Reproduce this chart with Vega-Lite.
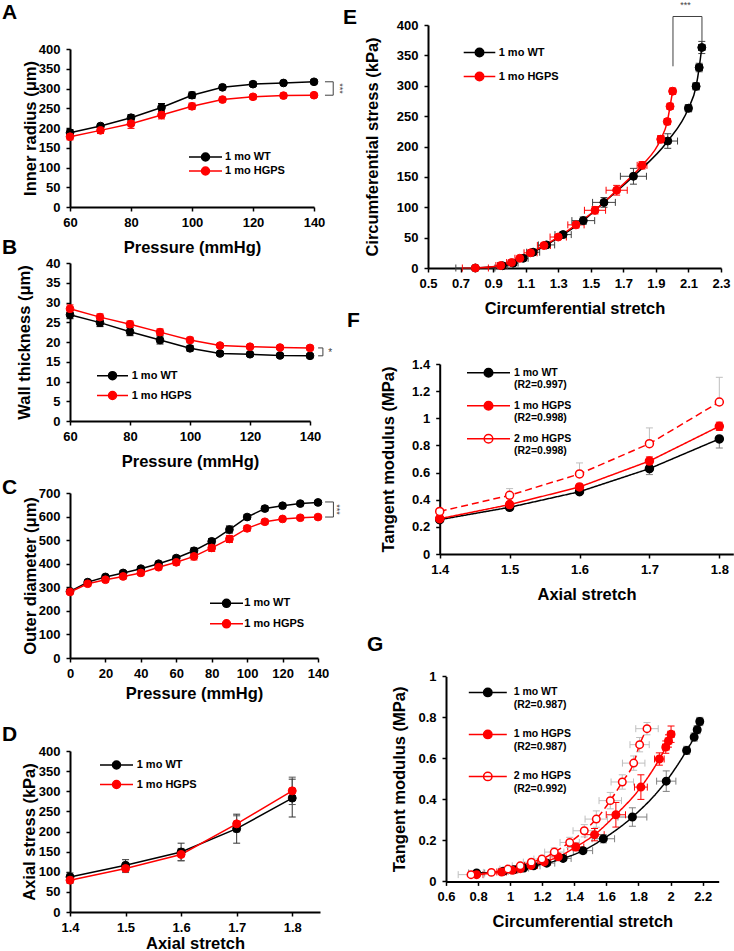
{
"$schema": "https://vega.github.io/schema/vega-lite/v6.json",
"padding": {"left": 2, "top": 0, "right": 0, "bottom": 0},
"config": {
 "font": "Liberation Sans",
 "view": {"stroke": null},
 "axis": {"grid": false, "domainColor": "black", "domainWidth": 2, "tickColor": "black", "tickWidth": 1.5, "tickSize": 4, "labelFont": "Liberation Sans", "labelFontSize": 13, "labelFontWeight": "bold", "labelColor": "black", "labelPadding": 5, "titleFont": "Liberation Sans", "titleFontSize": 16.5, "titleFontWeight": "bold", "titleColor": "black", "labelOverlap": false, "labelFlush": false, "format": ".4~g", "tickCount": 20},
 "axisY": {"labelPadding": 6},
 "legend": {"labelFont": "Liberation Sans", "labelFontWeight": "bold", "labelColor": "black", "labelFontSize": 11, "padding": 0, "labelLimit": 0, "symbolStrokeWidth": 1.5, "symbolSize": 100},
 "title": {"font": "Liberation Sans", "fontSize": 21, "fontWeight": "bold", "color": "black", "anchor": "start", "frame": "group"}
},
"datasets": {
 "A": [
  {"s":"1 mo WT","x":60,"y":188,"lo":180,"hi":196},
  {"s":"1 mo WT","x":70,"y":205,"lo":199,"hi":211},
  {"s":"1 mo WT","x":80,"y":226,"lo":218,"hi":234},
  {"s":"1 mo WT","x":90,"y":252,"lo":242,"hi":262},
  {"s":"1 mo WT","x":100,"y":283,"lo":275,"hi":291},
  {"s":"1 mo WT","x":110,"y":303,"lo":297,"hi":309},
  {"s":"1 mo WT","x":120,"y":311,"lo":305,"hi":317},
  {"s":"1 mo WT","x":130,"y":314,"lo":309,"hi":319},
  {"s":"1 mo WT","x":140,"y":317,"lo":312,"hi":322},
  {"s":"1 mo HGPS","x":60,"y":178,"lo":170,"hi":186},
  {"s":"1 mo HGPS","x":70,"y":194,"lo":186,"hi":202},
  {"s":"1 mo HGPS","x":80,"y":211,"lo":199,"hi":223},
  {"s":"1 mo HGPS","x":90,"y":233,"lo":223,"hi":243},
  {"s":"1 mo HGPS","x":100,"y":255,"lo":247,"hi":263},
  {"s":"1 mo HGPS","x":110,"y":272,"lo":266,"hi":278},
  {"s":"1 mo HGPS","x":120,"y":279,"lo":273,"hi":285},
  {"s":"1 mo HGPS","x":130,"y":282,"lo":276,"hi":288},
  {"s":"1 mo HGPS","x":140,"y":283,"lo":278,"hi":288}
 ],
 "A_br": [{"x":146.3,"x2":146.3,"y":283,"y2":317},{"x":143.6,"x2":146.3,"y":317,"y2":317},{"x":143.6,"x2":146.3,"y":283,"y2":283}],
 "A_tx": [{"x":148.5,"y":300,"t":"***"}],
 "B": [
  {"s":"1 mo WT","x":60,"y":26.9,"lo":25.9,"hi":27.9},
  {"s":"1 mo WT","x":70,"y":24.9,"lo":23.9,"hi":25.9},
  {"s":"1 mo WT","x":80,"y":22.6,"lo":21.6,"hi":23.6},
  {"s":"1 mo WT","x":90,"y":20.5,"lo":19.5,"hi":21.5},
  {"s":"1 mo WT","x":100,"y":18.4,"lo":17.7,"hi":19.1},
  {"s":"1 mo WT","x":110,"y":17.1,"lo":16.6,"hi":17.6},
  {"s":"1 mo WT","x":120,"y":16.9,"lo":16.4,"hi":17.4},
  {"s":"1 mo WT","x":130,"y":16.6,"lo":16.1,"hi":17.1},
  {"s":"1 mo WT","x":140,"y":16.5,"lo":16.0,"hi":17.0},
  {"s":"1 mo HGPS","x":60,"y":28.4,"lo":27.4,"hi":29.4},
  {"s":"1 mo HGPS","x":70,"y":26.3,"lo":25.5,"hi":27.1},
  {"s":"1 mo HGPS","x":80,"y":24.5,"lo":23.7,"hi":25.3},
  {"s":"1 mo HGPS","x":90,"y":22.5,"lo":21.7,"hi":23.3},
  {"s":"1 mo HGPS","x":100,"y":20.5,"lo":19.8,"hi":21.2},
  {"s":"1 mo HGPS","x":110,"y":19.1,"lo":18.6,"hi":19.6},
  {"s":"1 mo HGPS","x":120,"y":18.8,"lo":18.3,"hi":19.3},
  {"s":"1 mo HGPS","x":130,"y":18.6,"lo":18.1,"hi":19.1},
  {"s":"1 mo HGPS","x":140,"y":18.5,"lo":18.0,"hi":19.0}
 ],
 "B_br": [{"x":144.3,"x2":144.3,"y":16.5,"y2":18.5},{"x":142.7,"x2":144.3,"y":16.5,"y2":16.5},{"x":142.7,"x2":144.3,"y":18.5,"y2":18.5}],
 "B_tx": [{"x":146.7,"y":17.2,"t":"*"}],
 "C": [
  {"s":"1 mo WT","x":0,"y":283,"lo":275,"hi":291},
  {"s":"1 mo WT","x":10,"y":322,"lo":314,"hi":330},
  {"s":"1 mo WT","x":20,"y":344,"lo":336,"hi":352},
  {"s":"1 mo WT","x":30,"y":361,"lo":353,"hi":369},
  {"s":"1 mo WT","x":40,"y":379,"lo":371,"hi":387},
  {"s":"1 mo WT","x":50,"y":400,"lo":392,"hi":408},
  {"s":"1 mo WT","x":60,"y":424,"lo":414,"hi":434},
  {"s":"1 mo WT","x":70,"y":455,"lo":443,"hi":467},
  {"s":"1 mo WT","x":80,"y":495,"lo":483,"hi":507},
  {"s":"1 mo WT","x":90,"y":545,"lo":530,"hi":560},
  {"s":"1 mo WT","x":100,"y":598,"lo":588,"hi":608},
  {"s":"1 mo WT","x":110,"y":634,"lo":624,"hi":644},
  {"s":"1 mo WT","x":120,"y":646,"lo":638,"hi":654},
  {"s":"1 mo WT","x":130,"y":655,"lo":647,"hi":663},
  {"s":"1 mo WT","x":140,"y":660,"lo":652,"hi":668},
  {"s":"1 mo HGPS","x":0,"y":280,"lo":272,"hi":288},
  {"s":"1 mo HGPS","x":10,"y":315,"lo":305,"hi":325},
  {"s":"1 mo HGPS","x":20,"y":332,"lo":322,"hi":342},
  {"s":"1 mo HGPS","x":30,"y":346,"lo":336,"hi":356},
  {"s":"1 mo HGPS","x":40,"y":361,"lo":351,"hi":371},
  {"s":"1 mo HGPS","x":50,"y":385,"lo":375,"hi":395},
  {"s":"1 mo HGPS","x":60,"y":406,"lo":394,"hi":418},
  {"s":"1 mo HGPS","x":70,"y":431,"lo":416,"hi":446},
  {"s":"1 mo HGPS","x":80,"y":467,"lo":452,"hi":482},
  {"s":"1 mo HGPS","x":90,"y":505,"lo":490,"hi":520},
  {"s":"1 mo HGPS","x":100,"y":550,"lo":538,"hi":562},
  {"s":"1 mo HGPS","x":110,"y":578,"lo":568,"hi":588},
  {"s":"1 mo HGPS","x":120,"y":590,"lo":582,"hi":598},
  {"s":"1 mo HGPS","x":130,"y":595,"lo":587,"hi":603},
  {"s":"1 mo HGPS","x":140,"y":598,"lo":590,"hi":606}
 ],
 "C_br": [{"x":148.7,"x2":148.7,"y":598,"y2":662},{"x":144,"x2":148.7,"y":662,"y2":662},{"x":144,"x2":148.7,"y":598,"y2":598}],
 "C_tx": [{"x":151,"y":630,"t":"***"}],
 "D": [
  {"s":"1 mo WT","x":1.4,"y":87,"lo":77,"hi":97},
  {"s":"1 mo WT","x":1.5,"y":116,"lo":102,"hi":130},
  {"s":"1 mo WT","x":1.6,"y":149,"lo":127,"hi":171},
  {"s":"1 mo WT","x":1.7,"y":207,"lo":171,"hi":243},
  {"s":"1 mo WT","x":1.8,"y":283,"lo":236,"hi":330},
  {"s":"1 mo HGPS","x":1.4,"y":79,"lo":71,"hi":87},
  {"s":"1 mo HGPS","x":1.5,"y":108,"lo":98,"hi":118},
  {"s":"1 mo HGPS","x":1.6,"y":143,"lo":128,"hi":158},
  {"s":"1 mo HGPS","x":1.7,"y":219,"lo":199,"hi":239},
  {"s":"1 mo HGPS","x":1.8,"y":301,"lo":267,"hi":335}
 ],
 "E": [
  {"s":"1 mo WT","x":0.791,"y":0,"xl":0.671,"xh":0.911,"lo":0,"hi":1},
  {"s":"1 mo WT","x":0.957,"y":3.8,"xl":0.927,"xh":0.987,"lo":2.8,"hi":4.8},
  {"s":"1 mo WT","x":1.023,"y":8,"xl":0.993,"xh":1.053,"lo":6,"hi":10},
  {"s":"1 mo WT","x":1.085,"y":16,"xl":1.055,"xh":1.115,"lo":14,"hi":18},
  {"s":"1 mo WT","x":1.146,"y":26,"xl":1.106,"xh":1.186,"lo":23,"hi":29},
  {"s":"1 mo WT","x":1.228,"y":38,"xl":1.178,"xh":1.278,"lo":34,"hi":42},
  {"s":"1 mo WT","x":1.33,"y":55,"xl":1.28,"xh":1.38,"lo":50,"hi":60},
  {"s":"1 mo WT","x":1.454,"y":78,"xl":1.384,"xh":1.524,"lo":72,"hi":84},
  {"s":"1 mo WT","x":1.581,"y":108,"xl":1.511,"xh":1.651,"lo":100,"hi":116},
  {"s":"1 mo WT","x":1.762,"y":151,"xl":1.682,"xh":1.842,"lo":138,"hi":164},
  {"s":"1 mo WT","x":1.973,"y":209,"xl":1.913,"xh":2.033,"lo":197,"hi":221},
  {"s":"1 mo WT","x":2.1,"y":263,"xl":2.08,"xh":2.12,"lo":257,"hi":269},
  {"s":"1 mo WT","x":2.147,"y":299,"xl":2.127,"xh":2.167,"lo":293,"hi":305},
  {"s":"1 mo WT","x":2.166,"y":330,"xl":2.146,"xh":2.186,"lo":323,"hi":337},
  {"s":"1 mo WT","x":2.182,"y":363,"xl":2.162,"xh":2.202,"lo":353,"hi":373},
  {"s":"1 mo HGPS","x":0.791,"y":0,"xl":0.711,"xh":0.871,"lo":0,"hi":1},
  {"s":"1 mo HGPS","x":0.947,"y":4,"xl":0.917,"xh":0.977,"lo":3,"hi":5},
  {"s":"1 mo HGPS","x":1.013,"y":9,"xl":0.983,"xh":1.043,"lo":7,"hi":11},
  {"s":"1 mo HGPS","x":1.064,"y":16,"xl":1.034,"xh":1.094,"lo":14,"hi":18},
  {"s":"1 mo HGPS","x":1.13,"y":25,"xl":1.09,"xh":1.17,"lo":22,"hi":28},
  {"s":"1 mo HGPS","x":1.212,"y":37,"xl":1.172,"xh":1.252,"lo":34,"hi":40},
  {"s":"1 mo HGPS","x":1.3,"y":51,"xl":1.25,"xh":1.35,"lo":47,"hi":55},
  {"s":"1 mo HGPS","x":1.409,"y":71,"xl":1.359,"xh":1.459,"lo":66,"hi":76},
  {"s":"1 mo HGPS","x":1.526,"y":95,"xl":1.461,"xh":1.591,"lo":89,"hi":101},
  {"s":"1 mo HGPS","x":1.659,"y":128,"xl":1.594,"xh":1.724,"lo":120,"hi":136},
  {"s":"1 mo HGPS","x":1.815,"y":169,"xl":1.785,"xh":1.845,"lo":163,"hi":175},
  {"s":"1 mo HGPS","x":1.93,"y":212,"xl":1.91,"xh":1.95,"lo":206,"hi":218},
  {"s":"1 mo HGPS","x":1.97,"y":241,"xl":1.955,"xh":1.985,"lo":236,"hi":246},
  {"s":"1 mo HGPS","x":1.987,"y":266,"xl":1.972,"xh":2.002,"lo":261,"hi":271},
  {"s":"1 mo HGPS","x":2.003,"y":291,"xl":1.988,"xh":2.018,"lo":286,"hi":296}
 ],
 "E_br": [{"x":2.005,"x2":2.005,"y":332,"y2":414},{"x":2.183,"x2":2.183,"y":370,"y2":414},{"x":2.005,"x2":2.183,"y":414,"y2":414}],
 "E_tx": [{"x":2.082,"y":433,"t":"***"}],
 "F": [
  {"s":"1 mo WT","x":1.4,"y":0.253,"lo":0.233,"hi":0.253},
  {"s":"1 mo WT","x":1.5,"y":0.344,"lo":0.324,"hi":0.344},
  {"s":"1 mo WT","x":1.6,"y":0.459,"lo":0.439,"hi":0.459},
  {"s":"1 mo WT","x":1.7,"y":0.629,"lo":0.585,"hi":0.629},
  {"s":"1 mo WT","x":1.8,"y":0.848,"lo":0.781,"hi":0.848},
  {"s":"1 mo HGPS","x":1.4,"y":0.26,"lo":0.24,"hi":0.28},
  {"s":"1 mo HGPS","x":1.5,"y":0.364,"lo":0.344,"hi":0.384},
  {"s":"1 mo HGPS","x":1.6,"y":0.494,"lo":0.474,"hi":0.514},
  {"s":"1 mo HGPS","x":1.7,"y":0.685,"lo":0.655,"hi":0.715},
  {"s":"1 mo HGPS","x":1.8,"y":0.941,"lo":0.911,"hi":0.971},
  {"s":"2 mo HGPS","x":1.4,"y":0.314,"lo":0.314,"hi":0.334},
  {"s":"2 mo HGPS","x":1.5,"y":0.432,"lo":0.432,"hi":0.482},
  {"s":"2 mo HGPS","x":1.6,"y":0.59,"lo":0.59,"hi":0.671},
  {"s":"2 mo HGPS","x":1.7,"y":0.813,"lo":0.813,"hi":0.929},
  {"s":"2 mo HGPS","x":1.8,"y":1.12,"lo":1.12,"hi":1.302}
 ],
 "G": [
  {"s":"1 mo WT","x":0.791,"y":0.041,"xl":0.741,"xh":0.841,"lo":0.036,"hi":0.046},
  {"s":"1 mo WT","x":0.957,"y":0.049,"xl":0.927,"xh":0.987,"lo":0.044,"hi":0.054},
  {"s":"1 mo WT","x":1.023,"y":0.057,"xl":0.993,"xh":1.053,"lo":0.052,"hi":0.062},
  {"s":"1 mo WT","x":1.085,"y":0.065,"xl":1.055,"xh":1.115,"lo":0.06,"hi":0.07},
  {"s":"1 mo WT","x":1.146,"y":0.076,"xl":1.106,"xh":1.186,"lo":0.068,"hi":0.084},
  {"s":"1 mo WT","x":1.228,"y":0.089,"xl":1.178,"xh":1.278,"lo":0.079,"hi":0.099},
  {"s":"1 mo WT","x":1.33,"y":0.112,"xl":1.28,"xh":1.38,"lo":0.1,"hi":0.124},
  {"s":"1 mo WT","x":1.454,"y":0.15,"xl":1.394,"xh":1.514,"lo":0.135,"hi":0.165},
  {"s":"1 mo WT","x":1.581,"y":0.208,"xl":1.511,"xh":1.651,"lo":0.188,"hi":0.228},
  {"s":"1 mo WT","x":1.762,"y":0.314,"xl":1.672,"xh":1.852,"lo":0.269,"hi":0.359},
  {"s":"1 mo WT","x":1.973,"y":0.489,"xl":1.913,"xh":2.033,"lo":0.439,"hi":0.539},
  {"s":"1 mo WT","x":2.1,"y":0.639,"xl":2.08,"xh":2.12,"lo":0.619,"hi":0.659},
  {"s":"1 mo WT","x":2.147,"y":0.704,"xl":2.127,"xh":2.167,"lo":0.684,"hi":0.724},
  {"s":"1 mo WT","x":2.166,"y":0.74,"xl":2.146,"xh":2.186,"lo":0.72,"hi":0.76},
  {"s":"1 mo WT","x":2.182,"y":0.78,"xl":2.162,"xh":2.202,"lo":0.76,"hi":0.8},
  {"s":"1 mo HGPS","x":0.791,"y":0.033,"xl":0.751,"xh":0.831,"lo":0.028,"hi":0.038},
  {"s":"1 mo HGPS","x":0.947,"y":0.046,"xl":0.917,"xh":0.977,"lo":0.041,"hi":0.051},
  {"s":"1 mo HGPS","x":1.013,"y":0.054,"xl":0.983,"xh":1.043,"lo":0.049,"hi":0.059},
  {"s":"1 mo HGPS","x":1.064,"y":0.062,"xl":1.034,"xh":1.094,"lo":0.056,"hi":0.068},
  {"s":"1 mo HGPS","x":1.13,"y":0.078,"xl":1.09,"xh":1.17,"lo":0.07,"hi":0.086},
  {"s":"1 mo HGPS","x":1.212,"y":0.095,"xl":1.172,"xh":1.252,"lo":0.085,"hi":0.105},
  {"s":"1 mo HGPS","x":1.3,"y":0.12,"xl":1.25,"xh":1.35,"lo":0.108,"hi":0.132},
  {"s":"1 mo HGPS","x":1.409,"y":0.168,"xl":1.359,"xh":1.459,"lo":0.15,"hi":0.186},
  {"s":"1 mo HGPS","x":1.526,"y":0.228,"xl":1.466,"xh":1.586,"lo":0.198,"hi":0.258},
  {"s":"1 mo HGPS","x":1.659,"y":0.325,"xl":1.599,"xh":1.719,"lo":0.265,"hi":0.385},
  {"s":"1 mo HGPS","x":1.815,"y":0.46,"xl":1.775,"xh":1.855,"lo":0.4,"hi":0.52},
  {"s":"1 mo HGPS","x":1.93,"y":0.597,"xl":1.9,"xh":1.96,"lo":0.567,"hi":0.627},
  {"s":"1 mo HGPS","x":1.97,"y":0.655,"xl":1.95,"xh":1.99,"lo":0.625,"hi":0.685},
  {"s":"1 mo HGPS","x":1.987,"y":0.685,"xl":1.967,"xh":2.007,"lo":0.655,"hi":0.715},
  {"s":"1 mo HGPS","x":2.003,"y":0.718,"xl":1.983,"xh":2.023,"lo":0.678,"hi":0.758},
  {"s":"2 mo HGPS","x":0.756,"y":0.033,"xl":0.676,"xh":0.836,"lo":0.028,"hi":0.038},
  {"s":"2 mo HGPS","x":0.883,"y":0.044,"xl":0.833,"xh":0.933,"lo":0.039,"hi":0.049},
  {"s":"2 mo HGPS","x":0.986,"y":0.06,"xl":0.936,"xh":1.036,"lo":0.052,"hi":0.068},
  {"s":"2 mo HGPS","x":1.063,"y":0.076,"xl":1.013,"xh":1.113,"lo":0.066,"hi":0.086},
  {"s":"2 mo HGPS","x":1.132,"y":0.094,"xl":1.082,"xh":1.182,"lo":0.082,"hi":0.106},
  {"s":"2 mo HGPS","x":1.198,"y":0.109,"xl":1.148,"xh":1.248,"lo":0.094,"hi":0.124},
  {"s":"2 mo HGPS","x":1.275,"y":0.143,"xl":1.215,"xh":1.335,"lo":0.123,"hi":0.163},
  {"s":"2 mo HGPS","x":1.371,"y":0.19,"xl":1.311,"xh":1.431,"lo":0.165,"hi":0.215},
  {"s":"2 mo HGPS","x":1.462,"y":0.247,"xl":1.392,"xh":1.532,"lo":0.217,"hi":0.277},
  {"s":"2 mo HGPS","x":1.537,"y":0.304,"xl":1.467,"xh":1.607,"lo":0.264,"hi":0.344},
  {"s":"2 mo HGPS","x":1.624,"y":0.394,"xl":1.554,"xh":1.694,"lo":0.354,"hi":0.434},
  {"s":"2 mo HGPS","x":1.699,"y":0.485,"xl":1.629,"xh":1.769,"lo":0.45,"hi":0.52},
  {"s":"2 mo HGPS","x":1.77,"y":0.577,"xl":1.7,"xh":1.84,"lo":0.542,"hi":0.612},
  {"s":"2 mo HGPS","x":1.807,"y":0.667,"xl":1.747,"xh":1.867,"lo":0.632,"hi":0.702},
  {"s":"2 mo HGPS","x":1.853,"y":0.745,"xl":1.783,"xh":1.923,"lo":0.715,"hi":0.775}
 ]
},
"bounds": "flush",
"spacing": 358,
"resolve": {"scale": {"color": "independent", "fill": "independent", "stroke": "independent", "strokeDash": "independent"}, "legend": {"color": "independent", "fill": "independent", "stroke": "independent", "strokeDash": "independent"}},
"hconcat": [
 {
  "bounds": "flush",
  "spacing": 56,
  "resolve": {"scale": {"color": "independent", "fill": "independent", "stroke": "independent", "strokeDash": "independent"}, "legend": {"color": "independent", "fill": "independent", "stroke": "independent", "strokeDash": "independent"}},
  "vconcat": [
   {
    "title": {"text": "A", "dx": -68, "offset": -15, "baseline": "alphabetic"},
    "width": 244, "height": 182,
    "data": {"name": "A"},
    "layer": [
     {"data": {"name": "A_br"}, "mark": {"type": "rule", "color": "#404040", "strokeWidth": 1}, "encoding": {"x": {"field": "x", "type": "quantitative"}, "x2": {"field": "x2"}, "y": {"field": "y", "type": "quantitative"}, "y2": {"field": "y2"}}},
     {"data": {"name": "A_tx"}, "mark": {"type": "text", "angle": 90, "fontSize": 9, "color": "#404040"}, "encoding": {"x": {"field": "x", "type": "quantitative"}, "y": {"field": "y", "type": "quantitative"}, "text": {"field": "t"}}},
     {"mark": {"type": "rule", "strokeWidth": 1}, "encoding": {"x": {"field": "x", "type": "quantitative"}, "y": {"field": "lo", "type": "quantitative"}, "y2": {"field": "hi"}, "color": {"field": "s", "type": "nominal", "scale": {"domain": ["1 mo HGPS", "1 mo WT"], "range": ["#ff0000", "black"]}, "legend": null}}},
     {"mark": {"type": "point", "shape": "M-1,0L1,0", "size": 49, "filled": false, "strokeWidth": 1, "opacity": 1}, "encoding": {"x": {"field": "x", "type": "quantitative"}, "y": {"field": "lo", "type": "quantitative"}, "color": {"field": "s", "type": "nominal"}}},
     {"mark": {"type": "point", "shape": "M-1,0L1,0", "size": 49, "filled": false, "strokeWidth": 1, "opacity": 1}, "encoding": {"x": {"field": "x", "type": "quantitative"}, "y": {"field": "hi", "type": "quantitative"}, "color": {"field": "s", "type": "nominal"}}},
     {"mark": {"type": "line", "strokeWidth": 1.5}, "encoding": {
       "x": {"field": "x", "type": "quantitative", "scale": {"domain": [60, 140], "nice": false, "zero": false}, "axis": {"values": [60, 80, 100, 120, 140], "tickCount": 20, "title": "Pressure (mmHg)", "titlePadding": 10, "labelOverlap": false}},
       "y": {"field": "y", "type": "quantitative", "scale": {"domain": [0, 400], "nice": false, "zero": false, "range": [182, 24]}, "axis": {"values": [0, 50, 100, 150, 200, 250, 300, 350, 400], "tickCount": 20, "title": "Inner radius (μm)", "titlePadding": 0, "labelOverlap": false}},
       "stroke": {"field": "s", "type": "nominal", "scale": {"domain": ["1 mo WT", "1 mo HGPS"], "range": ["black", "#ff0000"]}}}},
     {"mark": {"type": "point", "filled": true, "size": 60, "strokeWidth": 1, "opacity": 1}, "encoding": {"x": {"field": "x", "type": "quantitative"}, "y": {"field": "y", "type": "quantitative"},
       "stroke": {"field": "s", "type": "nominal"},
       "fill": {"field": "s", "type": "nominal", "scale": {"domain": ["1 mo WT", "1 mo HGPS"], "range": ["black", "#ff0000"]}, "legend": {"title": null, "orient": "none", "legendX": 129.5, "legendY": 126, "symbolType": "M-3.3,0L3.3,0M-0.8,0A0.8,0.8,0,1,1,0.8,0A0.8,0.8,0,1,1,-0.8,0Z", "symbolSize": 100, "symbolStrokeWidth": 1.5, "labelOffset": 13.5, "rowPadding": 0,
         "encode": {"symbols": {"stroke": {"condition": {"test": "datum.value === '1 mo WT'", "value": "black"}, "value": "#ff0000"}, "strokeWidth": {"value": 1.5}, "opacity": {"value": 1}}}}}}}
    ]
   },
   {
    "title": {"text": "B", "dx": -68, "offset": -17.5, "baseline": "alphabetic"},
    "width": 240, "height": 158,
    "data": {"name": "B"},
    "layer": [
     {"data": {"name": "B_br"}, "mark": {"type": "rule", "color": "#404040", "strokeWidth": 1}, "encoding": {"x": {"field": "x", "type": "quantitative"}, "x2": {"field": "x2"}, "y": {"field": "y", "type": "quantitative"}, "y2": {"field": "y2"}}},
     {"data": {"name": "B_tx"}, "mark": {"type": "text", "fontSize": 10, "color": "#404040"}, "encoding": {"x": {"field": "x", "type": "quantitative"}, "y": {"field": "y", "type": "quantitative"}, "text": {"field": "t"}}},
     {"mark": {"type": "rule", "strokeWidth": 1}, "encoding": {"x": {"field": "x", "type": "quantitative"}, "y": {"field": "lo", "type": "quantitative"}, "y2": {"field": "hi"}, "color": {"field": "s", "type": "nominal", "scale": {"domain": ["1 mo HGPS", "1 mo WT"], "range": ["#ff0000", "black"]}, "legend": null}}},
     {"mark": {"type": "point", "shape": "M-1,0L1,0", "size": 49, "filled": false, "strokeWidth": 1, "opacity": 1}, "encoding": {"x": {"field": "x", "type": "quantitative"}, "y": {"field": "lo", "type": "quantitative"}, "color": {"field": "s", "type": "nominal"}}},
     {"mark": {"type": "point", "shape": "M-1,0L1,0", "size": 49, "filled": false, "strokeWidth": 1, "opacity": 1}, "encoding": {"x": {"field": "x", "type": "quantitative"}, "y": {"field": "hi", "type": "quantitative"}, "color": {"field": "s", "type": "nominal"}}},
     {"mark": {"type": "line", "strokeWidth": 1.5}, "encoding": {
       "x": {"field": "x", "type": "quantitative", "scale": {"domain": [60, 140], "nice": false, "zero": false}, "axis": {"values": [60, 80, 100, 120, 140], "tickCount": 20, "title": "Pressure (mmHg)", "titlePadding": 10, "labelOverlap": false}},
       "y": {"field": "y", "type": "quantitative", "scale": {"domain": [0, 40], "nice": false, "zero": false}, "axis": {"values": [0, 5, 10, 15, 20, 25, 30, 35, 40], "tickCount": 20, "title": "Wall thickness (μm)", "titlePadding": 13, "labelOverlap": false}},
       "stroke": {"field": "s", "type": "nominal", "scale": {"domain": ["1 mo WT", "1 mo HGPS"], "range": ["black", "#ff0000"]}}}},
     {"mark": {"type": "point", "filled": true, "size": 60, "strokeWidth": 1, "opacity": 1}, "encoding": {"x": {"field": "x", "type": "quantitative"}, "y": {"field": "y", "type": "quantitative"},
       "stroke": {"field": "s", "type": "nominal"},
       "fill": {"field": "s", "type": "nominal", "scale": {"domain": ["1 mo WT", "1 mo HGPS"], "range": ["black", "#ff0000"]}, "legend": {"title": null, "orient": "none", "legendX": 36.5, "legendY": 106.7, "symbolType": "M-3.1,0L3.1,0M-0.8,0A0.8,0.8,0,1,1,0.8,0A0.8,0.8,0,1,1,-0.8,0Z", "symbolSize": 100, "symbolStrokeWidth": 1.5, "labelOffset": 13.2, "rowPadding": 5.8,
         "encode": {"symbols": {"stroke": {"condition": {"test": "datum.value === '1 mo WT'", "value": "black"}, "value": "#ff0000"}, "strokeWidth": {"value": 1.5}, "opacity": {"value": 1}}}}}}}
    ]
   },
   {
    "title": {"text": "C", "dx": -68, "offset": -38, "baseline": "alphabetic"},
    "width": 248, "height": 181,
    "data": {"name": "C"},
    "layer": [
     {"data": {"name": "C_br"}, "mark": {"type": "rule", "color": "#404040", "strokeWidth": 1}, "encoding": {"x": {"field": "x", "type": "quantitative"}, "x2": {"field": "x2"}, "y": {"field": "y", "type": "quantitative"}, "y2": {"field": "y2"}}},
     {"data": {"name": "C_tx"}, "mark": {"type": "text", "angle": 90, "fontSize": 9, "color": "#404040"}, "encoding": {"x": {"field": "x", "type": "quantitative"}, "y": {"field": "y", "type": "quantitative"}, "text": {"field": "t"}}},
     {"mark": {"type": "rule", "strokeWidth": 1}, "encoding": {"x": {"field": "x", "type": "quantitative"}, "y": {"field": "lo", "type": "quantitative"}, "y2": {"field": "hi"}, "color": {"field": "s", "type": "nominal", "scale": {"domain": ["1 mo HGPS", "1 mo WT"], "range": ["#ff0000", "black"]}, "legend": null}}},
     {"mark": {"type": "point", "shape": "M-1,0L1,0", "size": 49, "filled": false, "strokeWidth": 1, "opacity": 1}, "encoding": {"x": {"field": "x", "type": "quantitative"}, "y": {"field": "lo", "type": "quantitative"}, "color": {"field": "s", "type": "nominal"}}},
     {"mark": {"type": "point", "shape": "M-1,0L1,0", "size": 49, "filled": false, "strokeWidth": 1, "opacity": 1}, "encoding": {"x": {"field": "x", "type": "quantitative"}, "y": {"field": "hi", "type": "quantitative"}, "color": {"field": "s", "type": "nominal"}}},
     {"mark": {"type": "line", "strokeWidth": 1.5}, "encoding": {
       "x": {"field": "x", "type": "quantitative", "scale": {"domain": [0, 140], "nice": false, "zero": false}, "axis": {"values": [0, 20, 40, 60, 80, 100, 120, 140], "tickCount": 20, "title": "Pressure (mmHg)", "titlePadding": 5, "labelOverlap": false}},
       "y": {"field": "y", "type": "quantitative", "scale": {"domain": [0, 700], "nice": false, "zero": false, "range": [181, 16]}, "axis": {"values": [0, 100, 200, 300, 400, 500, 600, 700], "tickCount": 20, "title": "Outer diameter (μm)", "titlePadding": 0, "labelOverlap": false}},
       "stroke": {"field": "s", "type": "nominal", "scale": {"domain": ["1 mo WT", "1 mo HGPS"], "range": ["black", "#ff0000"]}}}},
     {"mark": {"type": "point", "filled": true, "size": 60, "strokeWidth": 1, "opacity": 1}, "encoding": {"x": {"field": "x", "type": "quantitative"}, "y": {"field": "y", "type": "quantitative"},
       "stroke": {"field": "s", "type": "nominal"},
       "fill": {"field": "s", "type": "nominal", "scale": {"domain": ["1 mo WT", "1 mo HGPS"], "range": ["black", "#ff0000"]}, "legend": {"title": null, "orient": "none", "legendX": 150.5, "legendY": 120.3, "symbolType": "M-3.3,0L3.3,0M-0.8,0A0.8,0.8,0,1,1,0.8,0A0.8,0.8,0,1,1,-0.8,0Z", "symbolSize": 100, "symbolStrokeWidth": 1.5, "labelOffset": 11.8, "rowPadding": 6.5,
         "encode": {"symbols": {"stroke": {"condition": {"test": "datum.value === '1 mo WT'", "value": "black"}, "value": "#ff0000"}, "strokeWidth": {"value": 1.5}, "opacity": {"value": 1}}}}}}}
    ]
   },
   {
    "title": {"text": "D", "dx": -68, "offset": -48, "baseline": "alphabetic"},
    "width": 250, "height": 198,
    "data": {"name": "D"},
    "layer": [
     {"mark": {"type": "rule", "strokeWidth": 1}, "encoding": {"x": {"field": "x", "type": "quantitative"}, "y": {"field": "lo", "type": "quantitative"}, "y2": {"field": "hi"}, "color": {"field": "s", "type": "nominal", "scale": {"domain": ["1 mo HGPS", "1 mo WT"], "range": ["#555555", "#333333"]}, "legend": null}}},
     {"mark": {"type": "point", "shape": "M-1,0L1,0", "size": 49, "filled": false, "strokeWidth": 1, "opacity": 1}, "encoding": {"x": {"field": "x", "type": "quantitative"}, "y": {"field": "lo", "type": "quantitative"}, "color": {"field": "s", "type": "nominal"}}},
     {"mark": {"type": "point", "shape": "M-1,0L1,0", "size": 49, "filled": false, "strokeWidth": 1, "opacity": 1}, "encoding": {"x": {"field": "x", "type": "quantitative"}, "y": {"field": "hi", "type": "quantitative"}, "color": {"field": "s", "type": "nominal"}}},
     {"mark": {"type": "line", "strokeWidth": 1.5}, "encoding": {
       "x": {"field": "x", "type": "quantitative", "scale": {"domain": [1.4, 1.85], "nice": false, "zero": false}, "axis": {"values": [1.4, 1.5, 1.6, 1.7, 1.8], "tickCount": 20, "title": "Axial stretch", "titlePadding": 1, "labelOverlap": false}},
       "y": {"field": "y", "type": "quantitative", "scale": {"domain": [0, 400], "nice": false, "zero": false, "range": [198, 37]}, "axis": {"values": [0, 50, 100, 150, 200, 250, 300, 350, 400], "tickCount": 20, "title": "Axial stress (kPa)", "titlePadding": 1, "labelOverlap": false}},
       "stroke": {"field": "s", "type": "nominal", "scale": {"domain": ["1 mo WT", "1 mo HGPS"], "range": ["black", "#ff0000"]}}}},
     {"mark": {"type": "point", "filled": true, "size": 64, "strokeWidth": 1, "opacity": 1}, "encoding": {"x": {"field": "x", "type": "quantitative"}, "y": {"field": "y", "type": "quantitative"},
       "stroke": {"field": "s", "type": "nominal"},
       "fill": {"field": "s", "type": "nominal", "scale": {"domain": ["1 mo WT", "1 mo HGPS"], "range": ["black", "#ff0000"]}, "legend": {"title": null, "orient": "none", "legendX": 40.5, "legendY": 45, "symbolType": "M-3.3,0L3.3,0M-0.8,0A0.8,0.8,0,1,1,0.8,0A0.8,0.8,0,1,1,-0.8,0Z", "symbolSize": 100, "symbolStrokeWidth": 1.5, "labelOffset": 14.2, "rowPadding": 5.5,
         "encode": {"symbols": {"stroke": {"condition": {"test": "datum.value === '1 mo WT'", "value": "black"}, "value": "#ff0000"}, "strokeWidth": {"value": 1.5}, "opacity": {"value": 1}}}}}}}
    ]
   }
  ]
 },
 {
  "bounds": "flush",
  "spacing": 96,
  "resolve": {"scale": {"color": "independent", "fill": "independent", "stroke": "independent", "strokeDash": "independent"}, "legend": {"color": "independent", "fill": "independent", "stroke": "independent", "strokeDash": "independent"}},
  "vconcat": [
   {
    "title": {"text": "E", "dx": -85, "offset": -44.5, "baseline": "alphabetic"},
    "width": 293, "height": 243,
    "data": {"name": "E"},
    "layer": [
     {"data": {"name": "E_br"}, "mark": {"type": "rule", "color": "#404040", "strokeWidth": 1}, "encoding": {"x": {"field": "x", "type": "quantitative"}, "x2": {"field": "x2"}, "y": {"field": "y", "type": "quantitative"}, "y2": {"field": "y2"}}},
     {"data": {"name": "E_tx"}, "mark": {"type": "text", "fontSize": 9, "color": "#404040"}, "encoding": {"x": {"field": "x", "type": "quantitative"}, "y": {"field": "y", "type": "quantitative"}, "text": {"field": "t"}}},
     {"mark": {"type": "rule", "strokeWidth": 1}, "encoding": {"x": {"field": "xl", "type": "quantitative"}, "x2": {"field": "xh"}, "y": {"field": "y", "type": "quantitative"}, "color": {"field": "s", "type": "nominal", "scale": {"domain": ["1 mo HGPS", "1 mo WT"], "range": ["#ff0000", "#404040"]}, "legend": null}}},
     {"mark": {"type": "point", "shape": "M0,-1L0,1", "size": 49, "filled": false, "strokeWidth": 1, "opacity": 1}, "encoding": {"x": {"field": "xl", "type": "quantitative"}, "y": {"field": "y", "type": "quantitative"}, "color": {"field": "s", "type": "nominal"}}},
     {"mark": {"type": "point", "shape": "M0,-1L0,1", "size": 49, "filled": false, "strokeWidth": 1, "opacity": 1}, "encoding": {"x": {"field": "xh", "type": "quantitative"}, "y": {"field": "y", "type": "quantitative"}, "color": {"field": "s", "type": "nominal"}}},
     {"mark": {"type": "rule", "strokeWidth": 1}, "encoding": {"x": {"field": "x", "type": "quantitative"}, "y": {"field": "lo", "type": "quantitative"}, "y2": {"field": "hi"}, "color": {"field": "s", "type": "nominal"}}},
     {"mark": {"type": "point", "shape": "M-1,0L1,0", "size": 49, "filled": false, "strokeWidth": 1, "opacity": 1}, "encoding": {"x": {"field": "x", "type": "quantitative"}, "y": {"field": "lo", "type": "quantitative"}, "color": {"field": "s", "type": "nominal"}}},
     {"mark": {"type": "point", "shape": "M-1,0L1,0", "size": 49, "filled": false, "strokeWidth": 1, "opacity": 1}, "encoding": {"x": {"field": "x", "type": "quantitative"}, "y": {"field": "hi", "type": "quantitative"}, "color": {"field": "s", "type": "nominal"}}},
     {"mark": {"type": "line", "strokeWidth": 1.5, "interpolate": "monotone"}, "encoding": {
       "x": {"field": "x", "type": "quantitative", "scale": {"domain": [0.5, 2.3], "nice": false, "zero": false}, "axis": {"values": [0.5, 0.7, 0.9, 1.1, 1.3, 1.5, 1.7, 1.9, 2.1, 2.3], "tickCount": 20, "title": "Circumferential stretch", "titlePadding": 10, "labelOverlap": false}},
       "y": {"field": "y", "type": "quantitative", "scale": {"domain": [0, 400], "nice": false, "zero": false}, "axis": {"values": [0, 50, 100, 150, 200, 250, 300, 350, 400], "tickCount": 20, "title": "Circumferential stress (kPa)", "titlePadding": 16, "labelOverlap": false}},
       "stroke": {"field": "s", "type": "nominal", "scale": {"domain": ["1 mo WT", "1 mo HGPS"], "range": ["black", "#ff0000"]}}}},
     {"mark": {"type": "point", "filled": true, "size": 64, "strokeWidth": 1, "opacity": 1}, "encoding": {"x": {"field": "x", "type": "quantitative"}, "y": {"field": "y", "type": "quantitative"},
       "stroke": {"field": "s", "type": "nominal"},
       "fill": {"field": "s", "type": "nominal", "scale": {"domain": ["1 mo WT", "1 mo HGPS"], "range": ["black", "#ff0000"]}, "legend": {"title": null, "orient": "none", "legendX": 45.5, "legendY": 21.5, "symbolType": "M-3.16,0L3.16,0M-0.85,0A0.85,0.85,0,1,1,0.85,0A0.85,0.85,0,1,1,-0.85,0Z", "symbolSize": 100, "symbolStrokeWidth": 1.5, "labelOffset": 13.2, "rowPadding": 8,
         "encode": {"symbols": {"stroke": {"condition": {"test": "datum.value === '1 mo WT'", "value": "black"}, "value": "#ff0000"}, "strokeWidth": {"value": 1.5}, "opacity": {"value": 1}}}}}}}
    ]
   },
   {
    "title": {"text": "F", "dx": -81, "offset": 10, "baseline": "alphabetic"},
    "width": 306, "height": 190,
    "data": {"name": "F"},
    "layer": [
     {"mark": {"type": "rule", "strokeWidth": 1}, "encoding": {"x": {"field": "x", "type": "quantitative"}, "y": {"field": "lo", "type": "quantitative"}, "y2": {"field": "hi"}, "color": {"field": "s", "type": "nominal", "scale": {"domain": ["2 mo HGPS", "1 mo HGPS", "1 mo WT"], "range": ["#bfbfbf", "#ff0000", "#808080"]}, "legend": null}}},
     {"mark": {"type": "point", "shape": "M-1,0L1,0", "size": 49, "filled": false, "strokeWidth": 1, "opacity": 1}, "encoding": {"x": {"field": "x", "type": "quantitative"}, "y": {"field": "lo", "type": "quantitative"}, "color": {"field": "s", "type": "nominal"}}},
     {"mark": {"type": "point", "shape": "M-1,0L1,0", "size": 49, "filled": false, "strokeWidth": 1, "opacity": 1}, "encoding": {"x": {"field": "x", "type": "quantitative"}, "y": {"field": "hi", "type": "quantitative"}, "color": {"field": "s", "type": "nominal"}}},
     {"mark": {"type": "line", "strokeWidth": 1.5}, "encoding": {
       "x": {"field": "x", "type": "quantitative", "scale": {"domain": [1.4, 1.82], "nice": false, "zero": false, "range": [11.7, 305.3]}, "axis": {"values": [1.4, 1.5, 1.6, 1.7, 1.8], "tickCount": 20, "title": "Axial stretch", "titlePadding": 10, "labelOverlap": false}},
       "y": {"field": "y", "type": "quantitative", "scale": {"domain": [0, 1.4], "nice": false, "zero": false}, "axis": {"values": [0, 0.2, 0.4, 0.6, 0.8, 1, 1.2, 1.4], "tickCount": 20, "title": "Tangent modulus (MPa)", "titlePadding": 15, "offset": -11.7, "labelOverlap": false}},
       "stroke": {"field": "s", "type": "nominal", "scale": {"domain": ["1 mo WT", "1 mo HGPS", "2 mo HGPS"], "range": ["black", "#ff0000", "#ff0000"]}},
       "strokeDash": {"field": "s", "type": "nominal", "scale": {"domain": ["2 mo HGPS", "1 mo HGPS", "1 mo WT"], "range": [[7, 4], [1, 0], [1, 0]]}, "legend": null}}},
     {"mark": {"type": "point", "filled": true, "size": 64, "strokeWidth": 1.5, "opacity": 1}, "encoding": {"x": {"field": "x", "type": "quantitative"}, "y": {"field": "y", "type": "quantitative"},
       "stroke": {"field": "s", "type": "nominal"},
       "fill": {"field": "s", "type": "nominal", "scale": {"domain": ["1 mo WT", "1 mo HGPS", "2 mo HGPS"], "range": ["black", "#ff0000", "white"]}, "legend": {"title": null, "orient": "none", "legendX": 54.5, "legendY": 2.7, "symbolType": "M-4.3,0L4.3,0M-0.86,0A0.86,0.86,0,1,1,0.86,0A0.86,0.86,0,1,1,-0.86,0Z", "symbolSize": 100, "symbolStrokeWidth": 1.5, "labelOffset": 19.5, "rowPadding": 7, "labelFontSize": 10.5,
         "labelExpr": "datum.value === '1 mo WT' ? ['1 mo WT', '(R2=0.997)'] : datum.value === '1 mo HGPS' ? ['1 mo HGPS', '(R2=0.998)'] : ['2 mo HGPS', '(R2=0.998)']",
         "encode": {
           "symbols": {"shape": {"condition": {"test": "datum.value === '2 mo HGPS'", "value": "M-4.3,0L-3.1,0M-2.4,0L-1.3,0M1.3,0L2.4,0M3.1,0L4.3,0M-0.86,0A0.86,0.86,0,1,1,0.86,0A0.86,0.86,0,1,1,-0.86,0Z"}, "value": "M-4.3,0L4.3,0M-0.86,0A0.86,0.86,0,1,1,0.86,0A0.86,0.86,0,1,1,-0.86,0Z"}, "stroke": {"condition": {"test": "datum.value === '1 mo WT'", "value": "black"}, "value": "#ff0000"}, "strokeWidth": {"value": 1.5}, "opacity": {"value": 1}},
           "labels": {"dy": {"value": 7.5}, "lineHeight": {"value": 15}}}}}}}
    ]
   },
   {
    "title": {"text": "G", "dx": -61, "offset": -21.7, "baseline": "alphabetic"},
    "width": 291, "height": 231.4,
    "data": {"name": "G"},
    "layer": [
     {"mark": {"type": "rule", "strokeWidth": 1}, "encoding": {"x": {"field": "xl", "type": "quantitative"}, "x2": {"field": "xh"}, "y": {"field": "y", "type": "quantitative"}, "color": {"field": "s", "type": "nominal", "scale": {"domain": ["2 mo HGPS", "1 mo HGPS", "1 mo WT"], "range": ["#bfbfbf", "#ff0000", "#808080"]}, "legend": null}}},
     {"mark": {"type": "point", "shape": "M0,-1L0,1", "size": 49, "filled": false, "strokeWidth": 1, "opacity": 1}, "encoding": {"x": {"field": "xl", "type": "quantitative"}, "y": {"field": "y", "type": "quantitative"}, "color": {"field": "s", "type": "nominal"}}},
     {"mark": {"type": "point", "shape": "M0,-1L0,1", "size": 49, "filled": false, "strokeWidth": 1, "opacity": 1}, "encoding": {"x": {"field": "xh", "type": "quantitative"}, "y": {"field": "y", "type": "quantitative"}, "color": {"field": "s", "type": "nominal"}}},
     {"mark": {"type": "rule", "strokeWidth": 1}, "encoding": {"x": {"field": "x", "type": "quantitative"}, "y": {"field": "lo", "type": "quantitative"}, "y2": {"field": "hi"}, "color": {"field": "s", "type": "nominal"}}},
     {"mark": {"type": "point", "shape": "M-1,0L1,0", "size": 49, "filled": false, "strokeWidth": 1, "opacity": 1}, "encoding": {"x": {"field": "x", "type": "quantitative"}, "y": {"field": "lo", "type": "quantitative"}, "color": {"field": "s", "type": "nominal"}}},
     {"mark": {"type": "point", "shape": "M-1,0L1,0", "size": 49, "filled": false, "strokeWidth": 1, "opacity": 1}, "encoding": {"x": {"field": "x", "type": "quantitative"}, "y": {"field": "hi", "type": "quantitative"}, "color": {"field": "s", "type": "nominal"}}},
     {"mark": {"type": "line", "strokeWidth": 1.5, "interpolate": "monotone"}, "encoding": {
       "x": {"field": "x", "type": "quantitative", "scale": {"domain": [0.6, 2.3], "nice": false, "zero": false, "range": [18, 290.7]}, "axis": {"values": [0.6, 0.8, 1, 1.2, 1.4, 1.6, 1.8, 2, 2.2], "tickCount": 20, "title": "Circumferential stretch", "titlePadding": 10, "labelOverlap": false}},
       "y": {"field": "y", "type": "quantitative", "scale": {"domain": [0, 1], "nice": false, "zero": false, "range": [231.4, 26.4]}, "axis": {"values": [0, 0.2, 0.4, 0.6, 0.8, 1], "tickCount": 20, "title": "Tangent modulus (MPa)", "titlePadding": 10, "offset": -18, "labelOverlap": false}},
       "stroke": {"field": "s", "type": "nominal", "scale": {"domain": ["1 mo WT", "1 mo HGPS", "2 mo HGPS"], "range": ["black", "#ff0000", "#ff0000"]}},
       "strokeDash": {"field": "s", "type": "nominal", "scale": {"domain": ["2 mo HGPS", "1 mo HGPS", "1 mo WT"], "range": [[7, 4], [1, 0], [1, 0]]}, "legend": null}}},
     {"mark": {"type": "point", "filled": true, "size": 56, "strokeWidth": 1.5, "opacity": 1}, "encoding": {"x": {"field": "x", "type": "quantitative"}, "y": {"field": "y", "type": "quantitative"},
       "stroke": {"field": "s", "type": "nominal"},
       "fill": {"field": "s", "type": "nominal", "scale": {"domain": ["1 mo WT", "1 mo HGPS", "2 mo HGPS"], "range": ["black", "#ff0000", "white"]}, "legend": {"title": null, "orient": "none", "legendX": 53.8, "legendY": 36.4, "symbolType": "M-3.8,0L3.8,0M-0.84,0A0.84,0.84,0,1,1,0.84,0A0.84,0.84,0,1,1,-0.84,0Z", "symbolSize": 100, "symbolStrokeWidth": 1.5, "labelOffset": 19.9, "rowPadding": 16, "labelFontSize": 10.5,
         "labelExpr": "datum.value === '1 mo WT' ? ['1 mo WT', '(R2=0.987)'] : datum.value === '1 mo HGPS' ? ['1 mo HGPS', '(R2=0.987)'] : ['2 mo HGPS', '(R2=0.992)']",
         "encode": {
           "symbols": {"shape": {"condition": {"test": "datum.value === '2 mo HGPS'", "value": "M-3.8,0L-2.75,0M-2.15,0L-1.2,0M1.2,0L2.15,0M2.75,0L3.8,0M-0.84,0A0.84,0.84,0,1,1,0.84,0A0.84,0.84,0,1,1,-0.84,0Z"}, "value": "M-3.8,0L3.8,0M-0.84,0A0.84,0.84,0,1,1,0.84,0A0.84,0.84,0,1,1,-0.84,0Z"}, "stroke": {"condition": {"test": "datum.value === '1 mo WT'", "value": "black"}, "value": "#ff0000"}, "strokeWidth": {"value": 1.5}, "opacity": {"value": 1}},
           "labels": {"dy": {"value": 6.75}, "lineHeight": {"value": 13.5}}}}}}}
    ]
   }
  ]
 }
]
}
